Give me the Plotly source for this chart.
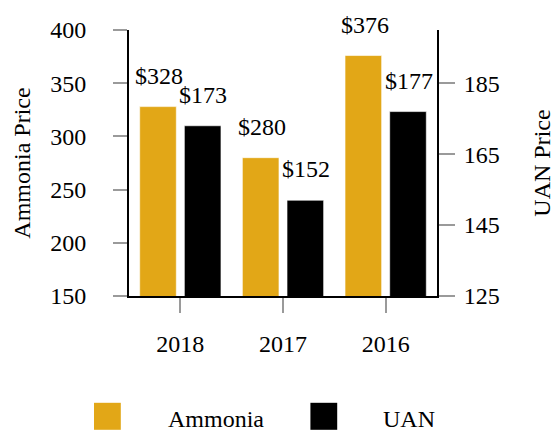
import plotly.graph_objects as go

years = ["2018", "2017", "2016"]
ammonia = [328, 280, 376]
uan = [173, 152, 177]
series_names = ["Ammonia", "UAN"]
left_ticks = [150, 200, 250, 300, 350, 400]
right_ticks = [125, 145, 165, 185]

GOLD = "#E2A717"
BLACK = "#000000"
FONT = "Liberation Serif, Times New Roman, serif"
TICKGRAY = "#9a9a9a"

xpos = list(range(len(years)))

fig = go.Figure()
fig.add_trace(go.Bar(
    x=xpos, y=ammonia, name=series_names[0], yaxis="y", offsetgroup="a",
    marker=dict(color=GOLD, line=dict(color="rgba(255,255,255,0.6)", width=1)),
    showlegend=False,
))
fig.add_trace(go.Bar(
    x=xpos, y=uan, name=series_names[1], yaxis="y2", offsetgroup="b",
    marker=dict(color=BLACK, line=dict(color="rgba(255,255,255,0.6)", width=1)),
    showlegend=False,
))

# value labels
for i, v in zip(xpos, ammonia):
    fig.add_annotation(x=i, y=v, xref="x", yref="y", text=f"${v}", showarrow=False,
                       xshift=-21, yshift=16, yanchor="bottom",
                       font=dict(family=FONT, size=24, color="black"))
for i, v in zip(xpos, uan):
    fig.add_annotation(x=i, y=v, xref="x", yref="y2", text=f"${v}", showarrow=False,
                       xshift=23, yshift=16, yanchor="bottom",
                       font=dict(family=FONT, size=24, color="black"))

# custom legend
legend_items = [(series_names[0], GOLD, -0.1136, 0.282), (series_names[1], BLACK, 0.589, 0.909)]
for name, col, sx, tx in legend_items:
    fig.add_shape(type="rect", xref="paper", yref="paper", x0=sx, x1=sx + 0.087,
                  y0=-0.503, y1=-0.4015, fillcolor=col, line=dict(width=0))
    fig.add_annotation(x=tx, y=-0.462, xref="paper", yref="paper", text=name, showarrow=False,
                       xanchor="center", yanchor="middle",
                       font=dict(family=FONT, size=24, color="black"))

fig.update_layout(
    width=552, height=423,
    margin=dict(l=121, r=123, t=21.5, b=135, autoexpand=False),
    paper_bgcolor="white", plot_bgcolor="white",
    barmode="group", bargap=0.13, bargroupgap=0.18,
    font=dict(family=FONT, size=24, color="black"),
    showlegend=False,
    xaxis=dict(
        range=[-0.5, 2.5], tickvals=xpos, ticktext=years, automargin=False,
        showline=True, linecolor="black", linewidth=2,
        ticks="outside", ticklen=15, tickcolor=TICKGRAY, tickwidth=1.5,
        ticklabelstandoff=10, showgrid=False, zeroline=False,
        tickfont=dict(family=FONT, size=24, color="black"),
    ),
    yaxis=dict(
        range=[150, 400], tickvals=left_ticks, automargin=False,
        showline=True, linecolor="black", linewidth=2,
        ticks="outside", ticklen=14, tickcolor=TICKGRAY, tickwidth=1.5,
        ticklabelstandoff=22, showgrid=False, zeroline=False,
        tickfont=dict(family=FONT, size=24, color="black"),
        title=dict(text="Ammonia Price", standoff=13, font=dict(family=FONT, size=24, color="black")),
    ),
    yaxis2=dict(
        range=[125, 200], tickvals=right_ticks, overlaying="y", side="right", automargin=False,
        showline=True, linecolor="black", linewidth=2,
        ticks="outside", ticklen=16, tickcolor=TICKGRAY, tickwidth=1.5,
        ticklabelstandoff=4, showgrid=False, zeroline=False,
        tickfont=dict(family=FONT, size=24, color="black"),
        title=dict(text="UAN Price", standoff=34, font=dict(family=FONT, size=24, color="black")),
    ),
)

fig.write_html("out.html")
